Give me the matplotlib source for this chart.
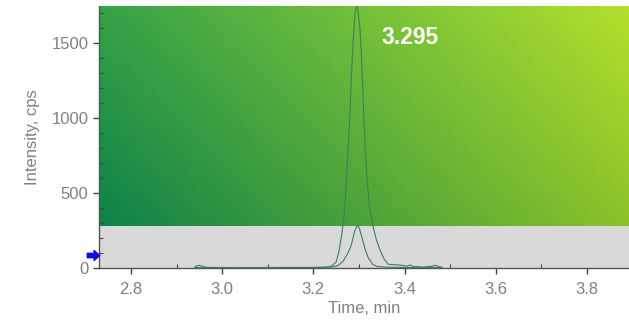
import numpy as np
import matplotlib.pyplot as plt
from matplotlib.path import Path

plt.rcParams['font.family'] = ['Liberation Sans', 'DejaVu Sans']

# XIC traces (time in min, intensity in cps)
time_main = [2.940, 2.945, 2.950, 2.960, 2.970, 3.050, 3.150, 3.200, 3.230, 3.240,
             3.250, 3.256, 3.262, 3.266, 3.270, 3.276, 3.280, 3.285, 3.289, 3.292,
             3.295, 3.298, 3.302, 3.306, 3.310, 3.314, 3.318, 3.322, 3.326, 3.331,
             3.338, 3.346, 3.355, 3.364, 3.375, 3.390, 3.405, 3.412, 3.420, 3.440,
             3.460, 3.467, 3.475, 3.482]
int_main = [5, 15, 18, 8, 4, 3, 4, 4, 6, 14,
            40, 110, 220, 310, 450, 790, 1020, 1380, 1600, 1710,
            1747, 1720, 1600, 1380, 1050, 780, 580, 440, 350, 273,
            190, 120, 60, 25, 22, 20, 12, 20, 10, 6,
            12, 18, 10, 5]

time_sub = [2.940, 3.100, 3.200, 3.240, 3.255, 3.265, 3.275, 3.283, 3.290, 3.296,
            3.300, 3.306, 3.313, 3.320, 3.330, 3.340, 3.360, 3.400, 3.482]
int_sub = [3, 3, 3, 6, 18, 45, 95, 150, 240, 283,
           272, 210, 130, 70, 25, 10, 5, 4, 3]

apex_time = 3.295
apex_label_pos = (3.412, 1540)

x_ticks = [2.8, 3.0, 3.2, 3.4, 3.6, 3.8]
y_ticks = [0, 500, 1000, 1500]
x_range = (2.73, 3.892)
y_range = (0, 1747)
band_top = 280          # grey noise band
arrow_level = 87        # threshold marker on the y axis

fig = plt.figure(figsize=(6.29, 3.2), dpi=100)
ax = fig.add_axes([99 / 629, 52 / 320, 530 / 629, 262 / 320])
ax.set_xlim(*x_range)
ax.set_ylim(*y_range)

# diagonal green gradient behind the traces
c_tl = np.array([0x36, 0xa2, 0x48]) / 255
c_bl = np.array([0x05, 0x7c, 0x4a]) / 255
c_tr = np.array([0xb4, 0xe0, 0x2c]) / 255
c_br = np.array([0x82, 0xbc, 0x28]) / 255
u = np.linspace(0, 1, 300)[None, :, None]
v = np.linspace(0, 1, 200)[:, None, None]
grad = (c_bl * (1 - u) * (1 - v) + c_br * u * (1 - v)
        + c_tl * (1 - u) * v + c_tr * u * v)
ax.imshow(grad, extent=[x_range[0], x_range[1], y_range[0], y_range[1]],
          origin='lower', aspect='auto', interpolation='bilinear', zorder=0)
ax.axhspan(y_range[0], band_top, color='#d9d9d9', zorder=1, lw=0)

line_col = '#3f7f5c'
ax.plot(time_sub, int_sub, color=line_col, lw=0.8, zorder=3)
ax.plot(time_main, int_main, color=line_col, lw=0.8, zorder=3)

ax.text(apex_label_pos[0], apex_label_pos[1], f'{apex_time:.3f}', color='white',
        fontsize=16.5, fontweight='bold', ha='center', va='center', zorder=4)

# blue arrow marker on the y axis
arrow = Path([(-1, -0.35), (0.1, -0.35), (0.1, -0.8), (1, 0), (0.1, 0.8),
              (0.1, 0.35), (-1, 0.35), (-1, -0.35)],
             [Path.MOVETO] + [Path.LINETO] * 6 + [Path.CLOSEPOLY])
ax.plot([-0.012], [arrow_level], marker=arrow, markersize=9, color='#1010e0',
        transform=ax.get_yaxis_transform(), clip_on=False, zorder=5)

for side in ['top', 'right']:
    ax.spines[side].set_visible(False)
for side in ['left', 'bottom']:
    ax.spines[side].set_color('#555555')
    ax.spines[side].set_linewidth(1.0)

ax.set_xticks(x_ticks)
ax.set_xticklabels([f'{t:.1f}' for t in x_ticks])
ax.set_yticks(y_ticks)
ax.set_xticks(np.arange(2.8, 3.9, 0.1), minor=True)
ax.set_yticks(np.arange(0, 1701, 100), minor=True)
ax.tick_params(axis='both', which='major', direction='out', length=4, width=1,
               color='#444444', labelcolor='#808080', labelsize=12)
ax.tick_params(axis='both', which='minor', direction='in', length=3, width=0.8,
               color='#444444')
ax.tick_params(axis='x', which='major', pad=6)

ax.set_xlabel('Time, min', color='#808080', fontsize=12, labelpad=3)
ax.set_ylabel('Intensity, cps', color='#808080', fontsize=12, labelpad=8)

fig.savefig('out.png', dpi=100)
